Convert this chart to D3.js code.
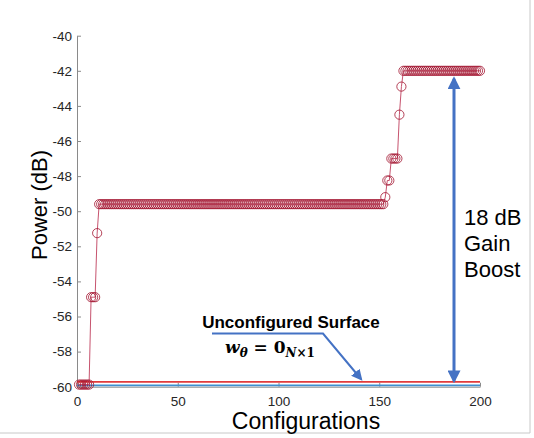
<!DOCTYPE html>
<html>
<head>
<meta charset="utf-8">
<title>Power vs configurations</title>
<script src="https://d3js.org/d3.v7.min.js"></script>
<style>
  body { margin: 0; background: #fff; }
  svg { display: block; font-family: Arial, "Liberation Sans", sans-serif; }
</style>
</head>
<body>
<svg id="chart" width="534" height="438"></svg>
<script>

// measured power, as runs of equal values (configuration 1..200)
var powerLevels = [-59.88, -54.9, -51.25, -49.6, -49.2, -48.25, -47.0, -44.5, -42.9, -42.0];
var runLengths  = [6, 3, 1, 142, 1, 2, 4, 1, 1, 39];

// reference lines
var unconfiguredPower = -59.92;
var baselinePower = -59.72;

var xTicks = [0, 50, 100, 150, 200];
var yTicks = [-60, -58, -56, -54, -52, -50, -48, -46, -44, -42, -40];

var power = [];
powerLevels.forEach(function(v, i) {
  for (var k = 0; k < runLengths[i]; k++) power.push(v);
});
var data = power.map(function(p, i) { return {cfg: i + 1, p: p}; });

var svg = d3.select("#chart");
var x = d3.scaleLinear().domain([0, 200]).range([77, 480]);
var y = d3.scaleLinear().domain([-60, -40]).range([386.7, 35.7]);

var axisColor = "#8a8a8a", textColor = "#262626";

// figure frame (right + bottom edge)
svg.append("path")
  .attr("d", "M530,0V433H0")
  .attr("fill", "none").attr("stroke", "#c8c8c8").attr("stroke-width", 1);

var defs = svg.append("defs");
function arrowHead(id, size) {
  defs.append("marker")
    .attr("id", id).attr("viewBox", "0 0 10 10")
    .attr("refX", 8).attr("refY", 5)
    .attr("markerWidth", size).attr("markerHeight", size)
    .attr("orient", "auto-start-reverse")
    .attr("markerUnits", "userSpaceOnUse")
    .append("path").attr("d", "M0,0L10,5L0,10z").attr("fill", "#4472c4");
}
arrowHead("ah", 13);
arrowHead("ah2", 11);

// axes (plain hyphen minus like the original)
var fmt = function(d) { return String(d); };
var xAxis = d3.axisBottom(x).tickValues(xTicks).tickFormat(fmt).tickSizeInner(-4).tickSizeOuter(0).tickPadding(10);
var yAxis = d3.axisLeft(y).tickValues(yTicks).tickFormat(fmt).tickSizeInner(-4).tickSizeOuter(0).tickPadding(5);

var gx = svg.append("g").attr("transform", "translate(0," + y(-60) + ")").call(xAxis);
var gy = svg.append("g").attr("transform", "translate(" + x(0) + ",0)").call(yAxis);
[gx, gy].forEach(function(g) {
  g.select(".domain").attr("stroke", axisColor);
  g.selectAll(".tick line").attr("stroke", axisColor);
  g.selectAll(".tick text").attr("fill", textColor).style("font-size", "13.5px")
    .style("font-family", "Arial, 'Liberation Sans', sans-serif");
});

// reference lines
svg.append("line")
  .attr("x1", x(0)).attr("x2", x(200))
  .attr("y1", y(baselinePower)).attr("y2", y(baselinePower))
  .attr("stroke", "#e23b3b").attr("stroke-width", 1.8);
svg.append("line")
  .attr("x1", x(0)).attr("x2", x(200))
  .attr("y1", y(unconfiguredPower)).attr("y2", y(unconfiguredPower))
  .attr("stroke", "#3f8fd0").attr("stroke-width", 1.8);

// power curve
var line = d3.line().x(function(d) { return x(d.cfg); }).y(function(d) { return y(d.p); });
svg.append("path").datum(data)
  .attr("d", line).attr("fill", "none")
  .attr("stroke", "#c0405e").attr("stroke-width", 0.9);

svg.append("g").selectAll("circle")
  .data(data)
  .enter().append("circle")
  .attr("cx", function(d) { return x(d.cfg); })
  .attr("cy", function(d) { return y(d.p); })
  .attr("r", 4.6)
  .attr("fill", "none")
  .attr("stroke", "#a2142f").attr("stroke-opacity", 0.8).attr("stroke-width", 1);

// axis labels
svg.append("text")
  .attr("x", 306).attr("y", 429)
  .attr("text-anchor", "middle").attr("fill", "#000")
  .style("font-size", "23px").text("Configurations");
svg.append("text")
  .attr("transform", "translate(47,205) rotate(-90)")
  .attr("text-anchor", "middle").attr("fill", "#000")
  .style("font-size", "22px").text("Power (dB)");

// gain arrow
var arrowX = 454;
svg.append("line")
  .attr("x1", arrowX).attr("x2", arrowX)
  .attr("y1", y(-42) + 8).attr("y2", y(baselinePower) - 1)
  .attr("stroke", "#4472c4").attr("stroke-width", 3)
  .attr("marker-start", "url(#ah)").attr("marker-end", "url(#ah)");

var gain = svg.append("text").attr("fill", "#000").style("font-size", "22px");
["18 dB", "Gain", "Boost"].forEach(function(t, i) {
  gain.append("tspan").attr("x", 464).attr("y", 225 + i * 26).text(t);
});

// unconfigured surface callout
svg.append("text")
  .attr("x", 291).attr("y", 328)
  .attr("text-anchor", "middle").attr("fill", "#000")
  .style("font-size", "17px").style("font-weight", "bold")
  .text("Unconfigured Surface");

svg.append("path")
  .attr("d", "M212,333.5H323L361,379")
  .attr("fill", "none").attr("stroke", "#4472c4").attr("stroke-width", 2)
  .attr("marker-end", "url(#ah2)");

var eq = svg.append("text")
  .attr("x", 225).attr("y", 353).attr("fill", "#000")
  .style("font-family", "'DejaVu Serif', 'Liberation Serif', serif")
  .style("font-size", "17px").style("font-weight", "bold");
eq.append("tspan").style("font-style", "italic").text("w");
eq.append("tspan").attr("dy", 4).style("font-size", "12px").style("font-style", "italic").text("θ");
eq.append("tspan").attr("dy", -4).text(" = 0");
eq.append("tspan").attr("dy", 4).style("font-size", "12px").style("font-style", "italic").text("N");
eq.append("tspan").style("font-size", "12px").text("×1");

</script>
</body>
</html>
